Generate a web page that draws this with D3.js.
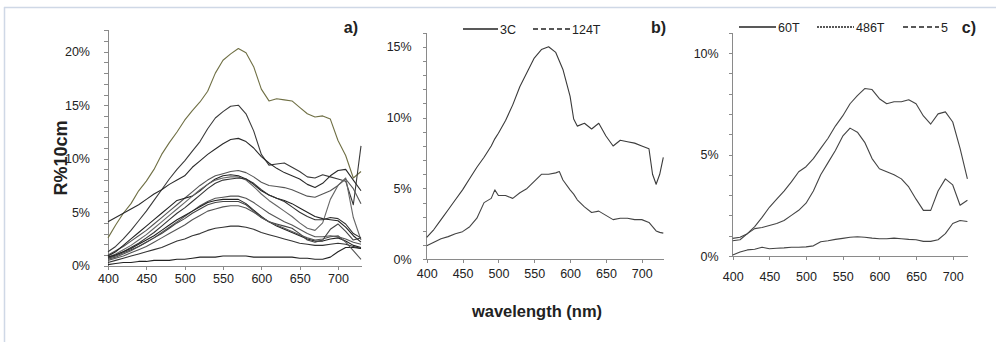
<!DOCTYPE html>
<html>
<head>
<meta charset="utf-8">
<script src="https://cdn.jsdelivr.net/npm/d3@7"></script>
<style>
body { margin: 0; background: #fff; }
svg text { font-family: "Liberation Sans", Arial, sans-serif; fill: #222; }
.axis path, .axis line { stroke: #8a8a8a; shape-rendering: crispEdges; }
.axis text { font-size: 12.5px; }
</style>
</head>
<body>
<svg id="chart" width="996" height="342"></svg>
<script>
// wavelengths (nm)
var wlA = [400,410,420,430,440,450,460,470,480,490,500,510,520,530,540,550,560,570,580,590,600,610,620,630,640,650,660,670,680,690,700,710,720,730];
var wlB = [400,410,420,430,440,450,460,470,480,490,495,500,510,520,530,540,550,560,570,580,585,590,600,605,610,620,630,640,650,660,670,680,690,700,710,715,720,725,730];
var wlC = [400,410,420,430,440,450,460,470,480,490,500,510,520,530,540,550,560,570,580,590,600,610,620,630,640,650,660,670,680,690,700,710,720];

// panel a) reflectance curves (%)
var a1  = [2.6,3.8,4.9,5.8,7.0,7.9,9.0,10.4,11.5,12.5,13.6,14.5,15.3,16.3,18.0,19.2,19.8,20.3,19.9,18.6,16.5,15.4,15.6,15.5,15.4,14.8,14.2,13.9,14.0,13.7,11.7,10.3,8.2,8.8];
var a2  = [1.3,1.8,2.5,3.3,4.2,5.1,6.1,7.1,8.1,9.0,9.8,10.7,11.6,12.8,13.8,14.4,14.9,15.0,14.2,12.6,10.4,9.4,9.5,9.6,9.2,8.8,8.3,8.2,8.5,8.3,8.1,7.9,5.7,11.2];
var a3  = [4.1,4.5,4.9,5.3,5.7,6.2,6.7,7.1,7.6,8.0,8.4,9.2,9.8,10.4,10.9,11.4,11.8,11.9,11.6,11.0,10.2,9.6,9.1,8.7,8.4,8.1,7.6,7.3,7.7,8.4,8.9,9.0,8.0,7.0];
var a4  = [1.0,1.4,1.8,2.3,2.8,3.3,3.9,4.5,5.1,5.7,6.3,6.9,7.5,8.0,8.4,8.6,8.8,8.9,8.7,8.3,7.8,7.5,7.4,7.3,7.1,6.8,6.5,6.4,6.7,7.0,7.5,8.1,7.2,5.8];
var a5  = [0.9,1.3,1.9,2.5,3.1,3.7,4.3,4.9,5.5,6.1,6.3,6.5,7.0,7.6,8.1,8.4,8.5,8.4,8.1,7.6,7.0,6.6,6.3,6.1,5.8,5.4,5.0,4.6,4.4,4.3,4.2,3.6,2.8,2.2];
var a6  = [0.8,1.1,1.5,1.9,2.4,2.9,3.5,4.1,4.7,5.3,5.9,6.5,7.1,7.6,8.0,8.2,8.3,8.3,8.0,7.4,6.7,6.1,5.6,5.1,4.6,4.0,3.5,3.3,4.0,6.2,7.5,8.2,4.5,2.4];
var a7  = [0.7,1.0,1.3,1.7,2.1,2.6,3.1,3.7,4.3,4.9,5.4,6.0,6.6,7.2,7.7,8.0,8.1,8.2,8.1,7.7,7.1,6.6,6.3,6.0,5.5,5.0,4.6,4.3,4.3,4.5,4.4,3.9,3.0,2.6];
var a8  = [0.6,0.8,1.1,1.4,1.8,2.2,2.6,3.1,3.6,4.1,4.6,5.1,5.6,6.0,6.3,6.4,6.5,6.5,6.3,5.9,5.4,4.9,4.5,4.1,3.8,3.4,3.0,2.7,2.7,2.8,2.7,2.5,2.2,2.0];
var a9  = [0.8,1.0,1.3,1.6,2.0,2.4,2.8,3.3,3.8,4.3,4.7,5.1,5.5,5.9,6.1,6.2,6.2,6.2,5.8,5.2,4.6,4.1,3.7,3.4,3.1,2.8,2.5,2.3,2.3,2.5,2.6,2.3,1.9,1.7];
var a10 = [0.7,0.9,1.2,1.5,1.8,2.2,2.6,3.0,3.5,4.0,4.4,4.9,5.3,5.7,5.9,6.0,6.0,6.0,5.7,5.1,4.5,4.1,3.9,3.7,3.5,3.0,2.4,2.2,2.4,3.4,3.9,3.2,2.4,2.6];
var a11 = [0.3,0.5,0.7,0.9,1.1,1.3,1.5,1.7,2.0,2.3,2.5,2.8,3.0,3.3,3.5,3.6,3.7,3.7,3.6,3.4,3.1,2.9,2.7,2.5,2.3,2.1,2.0,1.9,1.9,2.0,2.1,2.0,1.8,1.6];
var a12 = [0.1,0.2,0.3,0.3,0.4,0.4,0.5,0.5,0.5,0.6,0.6,0.7,0.8,0.8,0.8,0.9,0.9,0.9,0.9,0.8,0.8,0.8,0.8,0.8,0.8,0.7,0.7,0.6,0.6,0.8,1.3,1.7,1.7,1.6];
var a13 = [0.5,0.7,0.9,1.2,1.5,1.8,2.2,2.6,3.0,3.4,3.8,4.3,4.7,5.1,5.3,5.5,5.6,5.6,5.4,5.0,4.5,4.1,3.8,3.5,3.2,2.9,2.6,2.4,2.5,2.7,2.8,2.2,1.4,0.6];

// panel b)
var b3C   = [1.55,2.1,2.8,3.5,4.2,4.9,5.7,6.5,7.2,8.0,8.5,8.9,9.8,10.9,12.2,13.2,14.2,14.8,15.0,14.6,14.0,13.4,11.5,9.9,9.4,9.6,9.2,9.6,8.7,8.0,8.4,8.3,8.2,8.0,7.8,6.0,5.3,6.0,7.2];
var b124T = [0.95,1.2,1.45,1.6,1.8,1.95,2.3,2.9,4.0,4.3,4.9,4.5,4.5,4.3,4.7,5.0,5.5,6.0,6.0,6.1,6.2,5.6,4.9,4.6,4.2,3.7,3.3,3.4,3.1,2.8,2.9,2.9,2.8,2.8,2.6,2.3,2.0,1.9,1.85];

// panel c)
var c60T  = [0.75,0.8,1.1,1.45,1.9,2.4,2.8,3.2,3.65,4.15,4.4,4.8,5.3,5.8,6.4,6.9,7.5,7.9,8.25,8.2,7.75,7.5,7.6,7.6,7.7,7.5,6.9,6.5,7.0,7.1,6.6,5.3,3.8];
var c486T = [0.87,0.92,1.1,1.35,1.4,1.5,1.6,1.75,2.0,2.25,2.6,3.2,4.0,4.6,5.2,5.9,6.3,6.1,5.6,4.8,4.3,4.15,4.0,3.8,3.4,2.8,2.25,2.25,3.2,3.8,3.5,2.5,2.75];
var c5    = [0.05,0.2,0.3,0.33,0.43,0.36,0.38,0.4,0.43,0.43,0.45,0.5,0.7,0.75,0.82,0.87,0.92,0.95,0.92,0.88,0.85,0.85,0.88,0.85,0.82,0.8,0.72,0.72,0.8,1.1,1.6,1.75,1.7];

var xTicks = [400,450,500,550,600,650,700];

var svg = d3.select("#chart");

// light frame like the original figure box
svg.append("line").attr("x1", 4).attr("x2", 996).attr("y1", 7.5).attr("y2", 7.5)
    .attr("stroke", "#cfd8e6").attr("stroke-width", 1.5);
svg.append("line").attr("x1", 4.5).attr("x2", 4.5).attr("y1", 7).attr("y2", 342)
    .attr("stroke", "#cfd8e6").attr("stroke-width", 1.5);

function drawPanel(p){
    var x = d3.scaleLinear().domain([400, p.xmax]).range([p.left, p.right]);
    var y = d3.scaleLinear().domain([0, p.ymax]).range([p.bottom, p.top]);

    var g = svg.append("g");

    g.append("g")
        .attr("class", "axis")
        .attr("transform", "translate(" + p.left + ",0)")
        .call(d3.axisLeft(y)
            .tickValues(d3.range(0, p.ymax + 1, 1))
            .tickSize(4)
            .tickPadding(p.ypad)
            .tickFormat(function(d){ return d % 5 === 0 ? d + "%" : ""; }))
        .call(function(a){ a.select(".domain").attr("d", "M0," + p.bottom + "V" + p.top); });

    g.append("g")
        .attr("class", "axis")
        .attr("transform", "translate(0," + p.bottom + ")")
        .call(d3.axisBottom(x)
            .tickValues(xTicks)
            .tickSize(4)
            .tickPadding(p.xpad)
            .tickSizeOuter(0));

    var line = d3.line()
        .x(function(d){ return x(d[0]); })
        .y(function(d){ return y(d[1]); });

    p.series.forEach(function(s, i){
        g.append("path")
            .datum(p.wl.map(function(w, j){ return [w, s[j]]; }))
            .attr("fill", "none")
            .attr("stroke", p.colors[i % p.colors.length])
            .attr("stroke-width", 1.1)
            .attr("stroke-linejoin", "round")
            .attr("d", line);
    });

    g.append("text")
        .attr("x", p.labelX).attr("y", 33)
        .attr("text-anchor", "end")
        .style("font-size", "16px").style("font-weight", "bold")
        .text(p.label);
}

drawPanel({
    left: 108, right: 361, bottom: 265.7, top: 30.3, xmax: 730, ymax: 22, ypad: 14, xpad: 4,
    wl: wlA,
    series: [a1, a2, a3, a4, a5, a6, a7, a8, a9, a10, a11, a12, a13],
    colors: ["#6f6f44", "#3a3a3a", "#2a2a2a", "#555", "#222", "#666", "#333", "#555", "#222", "#444", "#333", "#222", "#555"],
    label: "a)", labelX: 358
});

drawPanel({
    left: 426.7, right: 663.3, bottom: 259.3, top: 32.6, xmax: 730, ymax: 16, ypad: 11, xpad: 6,
    wl: wlB,
    series: [b3C, b124T],
    colors: ["#3a3a3a", "#444"],
    label: "b)", labelX: 666
});

drawPanel({
    left: 732.7, right: 967.4, bottom: 256, top: 32.7, xmax: 720, ymax: 11, ypad: 10, xpad: 12,
    wl: wlC,
    series: [c60T, c486T, c5],
    colors: ["#444", "#444", "#444"],
    label: "c)", labelX: 976
});

// legends
function legend(items, y){
    items.forEach(function(it){
        svg.append("line")
            .attr("x1", it.x1).attr("x2", it.x2).attr("y1", y).attr("y2", y)
            .attr("stroke", "#222").attr("stroke-width", 1.3)
            .attr("stroke-dasharray", it.dash);
        svg.append("text")
            .attr("x", it.x2 + 2).attr("y", y + 4.5)
            .style("font-size", "12.5px")
            .text(it.name);
    });
}
legend([
    { name: "3C", x1: 463, x2: 498, dash: null },
    { name: "124T", x1: 533, x2: 570, dash: "5,3" }
], 29);
legend([
    { name: "60T", x1: 739, x2: 776, dash: null },
    { name: "486T", x1: 817, x2: 854, dash: "2,1" },
    { name: "5", x1: 903, x2: 939, dash: "5,3" }
], 27);

// axis titles
svg.append("text")
    .attr("transform", "translate(67,158) rotate(-90)")
    .attr("text-anchor", "middle")
    .style("font-size", "18px").style("font-weight", "bold")
    .text("R%10cm");

svg.append("text")
    .attr("x", 537).attr("y", 317)
    .attr("text-anchor", "middle")
    .style("font-size", "16.5px").style("font-weight", "bold")
    .text("wavelength (nm)");
</script>
</body>
</html>
